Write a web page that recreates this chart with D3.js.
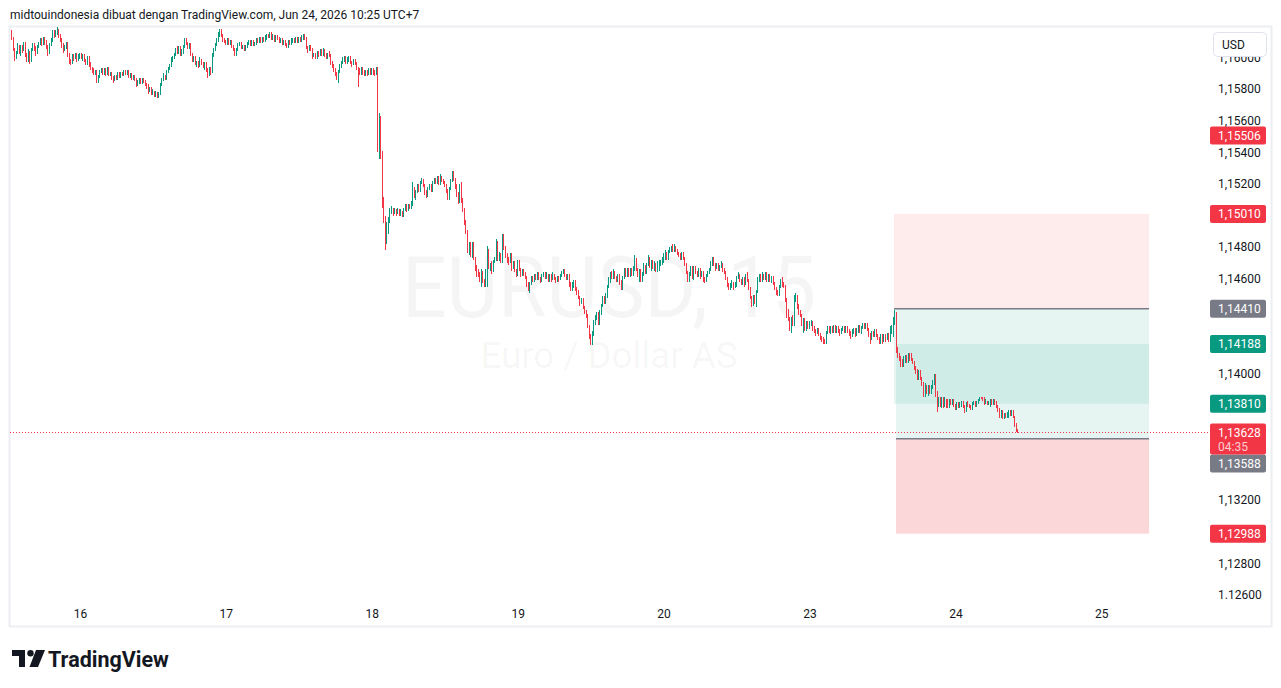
<!DOCTYPE html>
<html><head><meta charset="utf-8">
<script src="https://cdn.jsdelivr.net/npm/d3@7"></script>
<style>
html,body{margin:0;padding:0;background:#fff;}
svg{display:block;}
text{font-family:Roboto,"Noto Sans",sans-serif;}
</style></head><body>
<svg id="chart" width="1281" height="688"></svg>
<script>
// ---------- DATA ----------
// Candle values are [open, high, low, close] in pips (0.0001) above 1.10000 (e.g. 617 = 1.1617)
const PRICE_BASE = 1.10, PIP = 0.0001;
const day15 = [[616,617,611,612],[612,613,604,605],[605,606,598,600],[600,604,599,603],[603,609,602,607],[607,608,602,603],[603,608,601,607],[607,608,603,605],[605,610,604,609],[609,610,600,602],
[602,603,597,598],[598,605,597,603],[603,604,596,598],[598,606,597,605],[605,609,604,608],[608,609,604,606],[606,607,601,603],[603,608,602,607],[607,610,606,609],[609,612,608,611],
[611,612,607,609],[609,613,608,612],[612,613,608,610],[610,611,605,607],[607,608,601,603],[603,609,602,608],[608,612,607,611],[611,617,610,616],[616,617,612,614],[614,617,613,615],
[615,619,614,617],[617,618,612,614],[614,615,610,611],[611,612,606,608],[608,609,603,605],[605,608,604,607],[607,610,605,609],[609,610,600,602],[602,603,596,598],[598,599,595,597],
[597,602,596,601],[601,602,598,600],[600,603,599,602],[602,603,597,599],[599,602,598,601]];
const day16 = [[601,603,599,602],[602,603,599,600],[600,602,598,601],[601,602,597,598],[598,599,595,596],[596,601,595,600],[600,601,594,596],[596,597,592,593],[593,594,590,592],[592,593,589,590],
[590,592,589,591],[591,592,584,586],[586,589,584,588],[588,592,587,591],[591,593,590,592],[592,593,589,590],[590,593,589,592],[592,593,588,590],[590,594,589,593],[593,594,588,589],
[589,591,588,590],[590,591,586,587],[587,588,584,586],[586,589,585,588],[588,589,586,587],[587,591,586,590],[590,591,587,588],[588,591,587,590],[590,591,588,589],[589,592,588,591],
[591,592,589,590],[590,592,589,591],[591,592,587,588],[588,590,587,589],[589,590,586,587],[587,589,586,588],[588,589,585,586],[586,587,581,583],[583,586,582,584],[584,587,583,586],
[586,587,583,584],[584,587,583,586],[586,587,584,585],[585,586,582,583],[583,584,580,582],[582,583,577,579],[579,581,578,580],[580,581,576,577],[577,580,576,579],[579,579,575,576],
[576,579,575,578],[578,578,574,575],[575,578,574,577],[577,584,576,583],[583,587,582,586],[586,590,585,588],[588,589,586,587],[587,592,586,591],[591,594,590,593],[593,596,592,595],
[595,600,594,598],[598,601,597,600],[600,603,599,602],[602,606,601,605],[605,607,602,603],[603,607,602,606],[606,607,601,602],[602,605,601,603],[603,608,602,607],[607,612,606,611],
[611,612,608,609],[609,610,605,606],[606,609,605,608],[608,609,601,602],[602,603,597,598],[598,601,597,600],[600,601,595,596],[596,598,594,597],[597,598,593,595],[595,600,594,598],
[598,599,595,596],[596,597,593,594],[594,597,592,596],[596,597,591,592],[592,593,587,589],[589,594,588,593],[593,594,589,591],[591,603,590,602],[602,606,600,605],[605,609,604,608],
[608,612,607,611],[611,616,610,615],[615,618,613,617],[617,618,613,614],[614,615,610,611],[611,612,609,610]];
const day17 = [[610,611,608,609],[609,612,608,611],[611,612,608,609],[609,611,608,610],[610,611,606,607],[607,608,604,605],[605,606,601,602],[602,606,601,605],[605,609,604,608],[608,610,607,609],
[609,610,605,606],[606,608,605,607],[607,608,604,605],[605,608,604,607],[607,610,606,609],[609,611,608,610],[610,611,607,608],[608,611,607,610],[610,611,607,608],[608,610,607,609],
[609,612,608,611],[611,612,609,610],[610,613,609,612],[612,613,609,610],[610,613,609,612],[612,613,610,611],[611,614,610,612],[612,615,611,614],[614,615,612,613],[613,616,612,615],
[615,616,611,612],[612,615,611,614],[614,614,610,611],[611,614,610,613],[613,614,611,612],[612,613,609,610],[610,612,609,611],[611,612,608,609],[609,611,608,610],[610,611,607,608],
[608,609,606,607],[607,611,606,610],[610,611,608,609],[609,612,608,610],[610,612,609,611],[611,612,609,610],[610,613,609,612],[612,613,609,610],[610,613,609,612],[612,613,610,611],
[611,614,610,612],[612,615,611,614],[614,615,611,612],[612,613,605,606],[606,607,603,605],[605,608,604,607],[607,608,604,605],[605,606,599,601],[601,603,600,602],[602,603,599,600],
[600,604,599,603],[603,604,600,602],[602,605,601,604],[604,605,601,602],[602,606,601,604],[604,605,600,602],[602,603,599,600],[600,603,599,602],[602,604,600,601],[601,602,595,597],
[597,598,593,595],[595,596,591,592],[592,593,588,590],[590,591,586,588],[588,592,584,591],[591,596,590,595],[595,598,593,597],[597,600,596,598],[598,601,597,600],[600,601,596,597],
[597,600,596,598],[598,601,597,600],[600,601,596,597],[597,598,594,596],[596,599,595,598],[598,599,595,596],[596,597,592,593],[593,594,581,592],[592,593,589,590],[590,594,589,593],
[593,594,589,591],[591,592,588,589],[589,592,588,591],[591,592,588,590],[590,593,589,592],[592,593,589,590]];
const day18 = [[590,593,589,592],[592,593,589,591],[591,592,588,589],[589,594,589,593],[593,594,540,543],
[543,565,536,562],[562,563,536,540],[540,541,505,510],[510,512,495,498],[498,500,478,485],
[485,496,482,492],[492,499,488,497],[497,505,495,502],[502,506,501,504],[504,505,500,502],
[502,505,501,503],[503,504,500,502],[502,505,501,503],[503,504,500,501],[501,504,500,502],
[502,503,499,500],[500,505,499,504],[504,507,503,505],[505,507,502,504],[504,507,503,506],
[506,507,504,505],[505,509,504,507],[507,521,506,517],[517,518,511,512],[512,516,510,515],
[515,520,514,519],[519,520,515,516],[516,522,515,521],[521,524,520,522],[522,523,518,519],
[519,520,513,515],[515,516,511,513],[513,518,512,517],[517,520,516,519],[519,520,515,516],
[516,522,515,521],[521,524,520,523],[523,524,520,521],[521,525,520,524],[524,525,519,520],
[520,526,519,524],[524,525,521,522],[522,523,520,521],[521,522,518,519],[519,520,514,516],
[516,517,510,512],[512,518,510,517],[517,523,516,522],[522,528,521,526],[526,528,522,523],
[523,524,517,519],[519,520,512,514],[514,515,507,509],[509,520,508,519],[519,521,508,510],
[510,511,502,504],[504,505,494,496],[496,497,488,490],[490,491,476,477],[477,483,475,482],
[482,483,474,475],[475,483,473,482],[482,483,472,473],[473,474,465,468],[468,469,461,463],
[463,466,461,462],[462,464,458,459],[459,466,455,464],[464,465,457,459],[459,460,455,456],
[456,466,455,464],[464,481,455,478],[478,479,466,467],[467,470,465,469],[469,471,463,465],
[465,472,464,471],[471,474,470,473],[473,485,471,483],[483,484,471,473],[473,477,471,475],
[475,476,470,471],[471,488,470,485],[485,488,478,480],[480,481,473,474],[474,476,470,473],
[473,474,469,471],[471,476,470,475],[475,476,465,467],[467,471,466,470],[470,471,464,465],
[465,466,461,463]];
const day19 = [[463,472,462,471],[471,472,465,466],[466,467,461,463],[463,466,462,465],[465,466,462,463],[463,464,460,461],[461,462,455,457],[457,458,452,453],[453,458,451,457],[457,462,456,461],
[461,462,458,459],[459,463,458,462],[462,463,459,460],[460,464,459,463],[463,464,459,460],[460,461,457,459],[459,463,458,462],[462,464,461,463],[463,464,460,461],[461,464,460,462],
[462,463,458,459],[459,463,458,462],[462,463,458,460],[460,464,459,462],[462,463,459,460],[460,461,457,459],[459,462,458,461],[461,462,458,460],[460,463,459,462],[462,465,461,464],
[464,466,463,465],[465,466,461,462],[462,463,459,460],[460,463,459,462],[462,463,455,457],[457,458,452,453],[453,458,452,457],[457,459,454,458],[458,459,452,454],[454,455,450,452],
[452,453,447,448],[448,449,443,445],[445,448,444,447],[447,448,441,442],[442,443,438,439],[439,440,435,437],[437,438,429,430],[430,431,422,424],[424,425,418,419],[419,427,418,426],
[426,434,424,433],[433,437,431,435],[435,439,434,438],[438,439,431,433],[433,440,431,439],[439,444,437,443],[443,449,442,448],[448,449,444,445],[445,451,444,449],[449,456,448,455],
[455,461,454,459],[459,464,457,463],[463,465,460,461],[461,466,460,464],[464,465,460,461],[461,462,458,459],[459,463,458,462],[462,463,456,458],[458,459,453,454],[454,462,453,461],
[461,467,460,466],[466,467,461,462],[462,467,461,466],[466,467,461,462],[462,467,461,466],[466,467,462,463],[463,468,462,466],[466,475,465,472],[472,473,465,466],[466,467,461,462],
[462,466,458,465],[465,466,458,459],[459,464,458,463],[463,470,462,468],[468,469,463,464],[464,470,463,469],[469,475,468,473],[473,474,467,468],[468,472,465,471],[471,472,466,467],
[467,471,465,469],[469,470,464,466],[466,471,464,469],[469,472,465,470],[470,472,468,471],[471,474,469,472]];
const day20 = [[472,476,470,474],[474,478,472,476],[476,477,472,473],[473,478,472,477],[477,480,476,478],[478,481,477,480],[480,482,477,478],[478,482,477,480],[480,481,477,478],[478,479,475,476],
[476,477,474,475],[475,476,472,473],[473,477,472,476],[476,477,472,473],[473,474,468,469],[469,470,463,464],[464,465,458,459],[459,464,458,463],[463,468,462,467],[467,468,460,462],
[462,468,459,467],[467,468,463,464],[464,465,461,462],[462,467,461,466],[466,467,460,462],[462,465,461,464],[464,465,458,460],[460,461,457,459],[459,463,458,462],[462,465,461,464],
[464,467,463,466],[466,471,465,469],[469,474,468,473],[473,474,468,469],[469,470,465,467],[467,470,466,469],[469,470,465,466],[466,469,465,468],[468,471,467,469],[469,470,464,466],
[466,467,463,464],[464,465,459,460],[460,461,455,456],[456,457,453,454],[454,457,453,456],[456,459,454,457],[457,458,453,455],[455,458,454,457],[457,462,455,461],[461,464,460,462],
[462,463,458,459],[459,460,456,457],[457,461,456,460],[460,461,455,457],[457,463,456,462],[462,464,458,459],[459,460,453,454],[454,455,447,448],[448,449,442,445],[445,450,443,449],
[449,450,444,445],[445,453,442,452],[452,461,451,459],[459,463,458,462],[462,463,458,459],[459,464,458,462],[462,463,459,460],[460,464,459,462],[462,464,458,459],[459,463,458,462],
[462,463,458,459],[459,462,457,461],[461,462,456,457],[457,458,453,454],[454,455,450,452],[452,453,449,450],[450,456,449,455],[455,460,454,459],[459,461,455,456],[456,458,454,455],
[455,456,445,447],[447,448,435,440],[440,441,433,435],[435,436,427,430],[430,436,426,435],[435,437,430,431],[431,450,430,447],[447,451,445,449],[449,450,441,443],[443,444,437,439],
[439,440,436,437],[437,438,430,432],[432,435,426,434],[434,435,427,429],[429,433,427,432],[432,433,428,429]];
const day23 = [[429,433,428,431],[431,434,430,432],[432,433,427,429],[429,430,426,427],[427,428,424,426],[426,429,425,428],[428,429,424,425],[425,426,421,423],[423,424,420,422],[422,423,419,421],
[421,422,419,420],[420,427,419,426],[426,430,425,429],[429,430,426,427],[427,430,425,429],[429,430,426,427],[427,431,426,430],[430,431,426,427],[427,430,426,429],[429,430,426,427],
[427,428,424,426],[426,429,425,428],[428,430,427,429],[429,430,426,427],[427,430,426,429],[429,430,426,427],[427,428,424,426],[426,427,422,424],[424,428,423,427],[427,429,425,428],
[428,429,423,425],[425,429,424,428],[428,431,426,430],[430,431,426,427],[427,430,425,429],[429,432,428,431],[431,432,428,429],[429,432,428,431],[431,432,427,428],[428,429,423,425],
[425,426,419,422],[422,427,421,426],[426,427,423,424],[424,428,423,427],[427,428,423,424],[424,425,421,422],[422,423,419,421],[421,425,419,424],[424,425,419,421],[421,425,420,424],
[424,425,420,422],[422,426,421,425],[425,426,420,421],[421,430,420,428],[428,431,425,430],[430,436,423,435],[435,440,431,438],[438,439,413,415],[415,417,410,411],[411,413,408,410],
[410,411,404,406],[406,409,404,405],[405,411,404,410],[410,412,407,411],[411,412,407,409],[409,413,407,412],[412,413,408,411],[411,413,408,409],[409,410,406,407],[407,408,402,404],
[404,405,400,402],[402,403,396,398],[398,402,396,401],[401,402,396,397],[397,398,392,394],[394,395,385,386],[386,394,385,392],[392,393,387,388],[388,393,386,392],[392,393,387,388],
[388,393,387,392],[392,396,390,395],[395,400,393,399],[399,400,385,388],[388,389,376,380],[380,385,379,382],[382,385,379,380],[380,385,378,384],[384,385,378,380],[380,385,379,383],
[383,384,378,380],[380,384,378,379],[379,384,378,383],[383,384,380,381],[381,384,380,383],[383,384,379,380]];
const day24 = [[380,381,377,378],[378,382,377,381],[381,382,378,379],[379,382,378,381],[381,383,379,382],[382,383,378,379],[379,380,375,377],[377,382,376,381],[381,383,379,380],[380,381,378,379],
[379,380,377,378],[378,382,377,381],[381,383,380,382],[382,383,379,380],[380,383,379,382],[382,384,381,383],[383,385,383,385],[385,385,384,384],[384,385,383,383],[383,385,380,381],
[381,384,381,382],[382,383,380,381],[381,383,380,382],[382,384,379,383],[383,384,380,381],[381,384,380,383],[383,384,380,381],[381,383,378,379],[379,380,376,377],[377,378,372,374],
[374,377,372,376],[376,377,371,372],[372,375,371,374],[374,375,372,373],[373,376,372,375],[375,377,372,376],[376,377,373,374],[374,377,373,376],[376,377,372,373],[373,373,366,368],
[368,369,363,364],[364,365,362.5,362.8]];

const dayLabels = ["16","17","18","19","20","23","24","25"];
const BARS_PER_DAY = 96;          // 15-minute bars
const FIRST_DAY_SLOT = 45;        // slot index of day "16"
const priceTicks = [1.160,1.158,1.156,1.154,1.152,1.150,1.148,1.146,1.144,1.142,1.140,1.138,1.136,1.134,1.132,1.130,1.128,1.126];
const priceTickLabels = ["1,16000","1,15800","1,15600","1,15400","1,15200","1,15000","1,14800","1,14600","1,14400","1,14200","1,14000","1,13800","1,13600","1,13400","1,13200","1,13000","1,12800","1.12600"];
// position tools: [entry, stop, target]
const shortTool = [1.14410, 1.15010, 1.13810];
const longTool  = [1.13588, 1.12988, 1.14188];
const shortToolSlots = [580.6, 748.4];
const longToolSlots  = [581.9, 748.4];
// axis price labels
const markerPrices = [1.15506, 1.15010, 1.14410, 1.14188, 1.13810, 1.13588, 1.12988];
const markerKinds  = ["down","down","entry","up","up","entry","down"];
const markerTexts  = ["1,15506","1,15010","1,14410","1,14188","1,13810","1,13588","1,12988"];
const lastPrice = 1.13628, lastPriceText = "1,13628", countdown = "04:35";

// ---------- LAYOUT ----------
const UP = "#089981", DOWN = "#f23645", GREY = "#787b86", INK = "#131722";
const svg = d3.select("#chart");
const pane = {l:10, r:1208, t:27, b:626};
const x = d3.scaleLinear().domain([0, 662]).range([11.5, 1017.74]);
const y = d3.scaleLinear().domain([1.126, 1.158]).range([595, 89]);
const toPrice = v => PRICE_BASE + v * PIP;

// build candles
const candles = [];
day15.forEach((b, j) => candles.push({slot: FIRST_DAY_SLOT - day15.length + j, b}));
[day16, day17, day18, day19, day20, day23, day24].forEach((bars, d) =>
  bars.forEach((b, j) => candles.push({slot: FIRST_DAY_SLOT + d * BARS_PER_DAY + j, b})));
candles.forEach(c => { c.o = toPrice(c.b[0]); c.h = toPrice(c.b[1]); c.l = toPrice(c.b[2]); c.c = toPrice(c.b[3]); });
const daySlots = dayLabels.map((_, i) => FIRST_DAY_SLOT + i * BARS_PER_DAY);

// header
svg.append("text").attr("x", 10).attr("y", 19).attr("font-size", 12).attr("fill", INK)
  .text("midtouindonesia dibuat dengan TradingView.com, Jun 24, 2026 10:25 UTC+7");

// frame
svg.append("rect").attr("x", 9.5).attr("y", 26.5).attr("width", 1262).attr("height", 600)
  .attr("fill", "#fff").attr("stroke", "#eceef2").attr("stroke-width", 2);

// watermark
const wm = svg.append("g").attr("fill", "rgba(19,23,34,0.045)").attr("text-anchor", "middle");
wm.append("text").attr("x", (pane.l + pane.r) / 2).attr("y", 317).attr("font-size", 86)
  .attr("textLength", 414).attr("lengthAdjust", "spacingAndGlyphs").text("EURUSD, 15");
wm.append("text").attr("x", (pane.l + pane.r) / 2).attr("y", 368).attr("font-size", 36)
  .attr("textLength", 257).attr("lengthAdjust", "spacingAndGlyphs").text("Euro / Dollar AS");

// position tools
function drawTool(tool, slots, stopAlpha, targetAlpha) {
  const [entry, stop, target] = tool;
  const x0 = x(slots[0]), x1 = x(slots[1]);
  const g = svg.append("g");
  g.append("rect").attr("x", x0).attr("width", x1 - x0)
    .attr("y", Math.min(y(stop), y(entry))).attr("height", Math.abs(y(stop) - y(entry)))
    .attr("fill", `rgba(242,54,69,${stopAlpha})`);
  g.append("rect").attr("x", x0).attr("width", x1 - x0)
    .attr("y", Math.min(y(target), y(entry))).attr("height", Math.abs(y(target) - y(entry)))
    .attr("fill", `rgba(8,153,129,${targetAlpha})`);
  return {g, x0, x1, entry};
}
const t1 = drawTool(shortTool, shortToolSlots, 0.1, 0.1);
const t2 = drawTool(longTool, longToolSlots, 0.2, 0.1);

// candles
const cg = svg.append("g").attr("shape-rendering", "crispEdges");
cg.selectAll("rect.wick").data(candles).join("rect").attr("class", "wick")
  .attr("x", d => Math.floor(x(d.slot))).attr("width", 1)
  .attr("y", d => y(d.h)).attr("height", d => Math.max(1, y(d.l) - y(d.h)))
  .attr("fill", d => d.c >= d.o ? UP : DOWN);
cg.selectAll("rect.body").data(candles).join("rect").attr("class", "body")
  .attr("x", d => Math.floor(x(d.slot))).attr("width", 1)
  .attr("y", d => y(Math.max(d.o, d.c))).attr("height", d => Math.max(1, Math.abs(y(d.o) - y(d.c))))
  .attr("fill", d => d.c >= d.o ? UP : DOWN);

// tool entry lines
[t1, t2].forEach(t => svg.append("line").attr("x1", t.x0).attr("x2", t.x1)
  .attr("y1", y(t.entry)).attr("y2", y(t.entry)).attr("stroke", GREY).attr("stroke-width", 1.5));

// current price dotted line
svg.append("line").attr("x1", pane.l).attr("x2", pane.r).attr("y1", Math.round(y(lastPrice)) + 0.5).attr("y2", Math.round(y(lastPrice)) + 0.5)
  .attr("stroke", DOWN).attr("stroke-width", 1).attr("stroke-dasharray", "1,2");

// axis price label boxes (computed first so covered tick labels can be hidden)
const LBL_X = 1210, LBL_W = 56, LBL_H = 18;
const curTop = y(lastPrice) - 9, curH = 31;
const boxes = [{top: curTop, bottom: curTop + curH}];
const markers = markerPrices.map((p, i) => {
  let cy = y(p);
  if (cy + LBL_H / 2 > curTop && cy - LBL_H / 2 < curTop + curH) cy = curTop + curH + LBL_H / 2;
  boxes.push({top: cy - LBL_H / 2, bottom: cy + LBL_H / 2});
  return {cy, i};
});
const visibleTicks = priceTicks.filter(t => !boxes.some(b => y(t) + 4 > b.top && y(t) - 4 < b.bottom));

// price axis
const ya = svg.append("g").attr("transform", "translate(1210,0)")
  .call(d3.axisRight(y).tickValues(visibleTicks).tickSize(0).tickPadding(8)
    .tickFormat(d => priceTickLabels[priceTicks.indexOf(d)]));
ya.select(".domain").remove();
ya.selectAll("text").attr("font-size", 12).attr("fill", INK).attr("font-family", "Roboto, sans-serif");

// time axis
const xa = svg.append("g").attr("transform", "translate(0,604)")
  .call(d3.axisBottom(x).tickValues(daySlots).tickSize(0).tickPadding(5).tickFormat((d, i) => dayLabels[i]));
xa.select(".domain").remove();
xa.selectAll("text").attr("font-size", 12).attr("fill", INK).attr("font-family", "Roboto, sans-serif");

// axis price labels
const lg = svg.append("g").attr("font-size", 12).attr("font-family", "Roboto, sans-serif");
markers.forEach(({cy, i}) => {
  const col = markerKinds[i] === "up" ? UP : markerKinds[i] === "down" ? DOWN : GREY;
  lg.append("rect").attr("x", LBL_X).attr("y", cy - LBL_H / 2).attr("width", LBL_W).attr("height", LBL_H).attr("rx", 2).attr("fill", col);
  lg.append("text").attr("x", LBL_X + 8).attr("y", cy).attr("dy", "0.35em").attr("fill", "#fff").text(markerTexts[i]);
});
lg.append("rect").attr("x", LBL_X).attr("y", curTop).attr("width", LBL_W).attr("height", curH).attr("rx", 2).attr("fill", DOWN);
lg.append("text").attr("x", LBL_X + 8).attr("y", y(lastPrice)).attr("dy", "0.35em").attr("fill", "#fff").text(lastPriceText);
lg.append("text").attr("x", LBL_X + 8).attr("y", y(lastPrice) + 14).attr("dy", "0.35em").attr("fill", "rgba(255,255,255,0.75)").text(countdown);

// currency box
svg.append("rect").attr("x", 1213.5).attr("y", 32.5).attr("width", 53).attr("height", 24).attr("rx", 4)
  .attr("fill", "#fff").attr("stroke", "#e0e3eb");
svg.append("text").attr("x", 1222).attr("y", 44.5).attr("dy", "0.35em").attr("font-size", 12).attr("fill", INK).text("USD");

// TradingView logo
const logo = svg.append("g").attr("fill", INK);
logo.append("path").attr("d", "M12,650 H25 V667 H19 V656 H12 Z");
logo.append("circle").attr("cx", 30.5).attr("cy", 653.2).attr("r", 3.2);
logo.append("path").attr("d", "M36,650 H45 L38,667 H29.5 Z");
logo.append("text").attr("x", 48).attr("y", 666.5).attr("font-size", 21.5).attr("font-weight", 700)
  .attr("font-family", "Inter, Roboto, sans-serif").text("TradingView");
</script>
</body></html>
